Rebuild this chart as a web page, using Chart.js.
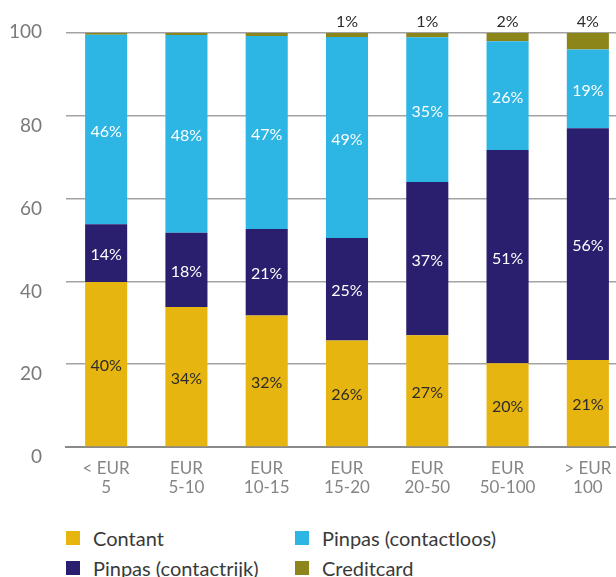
<!DOCTYPE html>
<html>
<head>
<meta charset="utf-8">
<script src="https://cdn.jsdelivr.net/npm/chart.js@4"></script>
<style>
  html, body { margin: 0; padding: 0; background: #fff; overflow: hidden; }
  #wrap { position: relative; width: 628px; height: 577px; }
  .item { position: absolute; white-space: nowrap; height: 14px;
    font-family: Lato, sans-serif; font-size: 20px; color: #3a3a3a; }
  .box { position: absolute; left: 0; top: 0; width: 14px; height: 14px; }
  .txt { position: absolute; left: 27px; top: 0; line-height: 14px; }
</style>
</head>
<body>
<div id="wrap">
  <canvas id="chart" width="628" height="500"></canvas>
</div>
<script>
'use strict';

const categories = [['< EUR', '5'], ['EUR', '5-10'], ['EUR', '10-15'], ['EUR', '15-20'],
  ['EUR', '20-50'], ['EUR', '50-100'], ['> EUR', '100']];
const contant = [40, 34, 32, 26, 27, 20, 21];
const contactrijk = [14, 18, 21, 25, 37, 51, 56];
const contactloos = [46, 48, 47, 49, 35, 26, 19];
const creditcard = [0.4, 0.5, 0.7, 1, 1, 2, 4];
const yTicks = [0, 20, 40, 60, 80, 100];

const series = [
  {label: 'Contant', values: contant, color: '#e7b50f', text: '#2b2b2b'},
  {label: 'Pinpas (contactrijk)', values: contactrijk, color: '#2a1e6f', text: '#ffffff'},
  {label: 'Pinpas (contactloos)', values: contactloos, color: '#2db5e4', text: '#ffffff'},
  {label: 'Creditcard', values: creditcard, color: '#8c851a', text: '#2b2b2b'}
];

// each bar is drawn as a share of its own total, like the original
const totals = categories.map((c, i) => series.reduce((s, d) => s + d.values[i], 0));

const font = 'Lato, sans-serif';

const barLabels = {
  id: 'barLabels',
  afterDatasetsDraw(chart) {
    const ctx = chart.ctx;
    ctx.save();
    ctx.font = '16px ' + font;
    ctx.textAlign = 'center';
    ctx.textBaseline = 'middle';
    series.forEach((s, di) => {
      chart.getDatasetMeta(di).data.forEach((el, i) => {
        const v = s.values[i];
        ctx.fillStyle = s.text;
        if (di < 3) {
          ctx.fillText(Math.round(v) + '%', el.x, (el.y + el.base) / 2 + 2);
        } else if (v >= 1) {
          ctx.fillText(Math.round(v) + '%', el.x, el.y - 11);
        }
      });
    });
    ctx.restore();
  }
};

new Chart(document.getElementById('chart').getContext('2d'), {
  type: 'bar',
  data: {
    labels: categories,
    datasets: series.map(s => ({
      label: s.label,
      data: s.values.map((v, i) => v / totals[i] * 100),
      backgroundColor: s.color,
      borderWidth: 0,
      barPercentage: 0.524,
      categoryPercentage: 1
    }))
  },
  options: {
    responsive: false,
    animation: false,
    layout: {padding: {top: 33, right: 0, bottom: 0, left: 0}},
    plugins: {legend: {display: false}, tooltip: {enabled: false}},
    scales: {
      x: {
        stacked: true,
        grid: {display: false, drawTicks: false},
        border: {display: true, color: '#8a8a8a', width: 2},
        ticks: {color: '#858585', padding: 12, maxRotation: 0, autoSkip: false,
          font: {family: font, size: 17, lineHeight: '19px'}},
        afterFit(scale) { scale.height = 53; }
      },
      y: {
        stacked: true,
        min: 0, max: 100,
        afterBuildTicks(scale) { scale.ticks = yTicks.map(v => ({value: v})); },
        grid: {color: '#a3a3a3', lineWidth: 1.5, drawTicks: true, tickLength: 24,
          tickColor: 'rgba(0,0,0,0)'},
        border: {display: false},
        ticks: {color: '#7a7a7a', padding: 0, labelOffset: 10,
          font: {family: font, size: 19, lineHeight: 1.2},
          callback: v => v === 100 ? ['100', ''] : String(v)},
        afterFit(scale) { scale.width = 66; }
      }
    }
  },
  plugins: [barLabels]
});

// two-column legend in the order of the original
const legendOrder = [0, 2, 1, 3];
const wrap = document.getElementById('wrap');
legendOrder.forEach((si, k) => {
  const item = document.createElement('div');
  item.className = 'item';
  item.style.left = (k % 2 ? 295 : 66) + 'px';
  item.style.top = (k < 2 ? 531 : 561) + 'px';
  item.innerHTML = '<span class="box" style="background:' + series[si].color + '"></span>' +
    '<span class="txt"></span>';
  item.querySelector('.txt').textContent = series[si].label;
  wrap.appendChild(item);
});
</script>
</body>
</html>
